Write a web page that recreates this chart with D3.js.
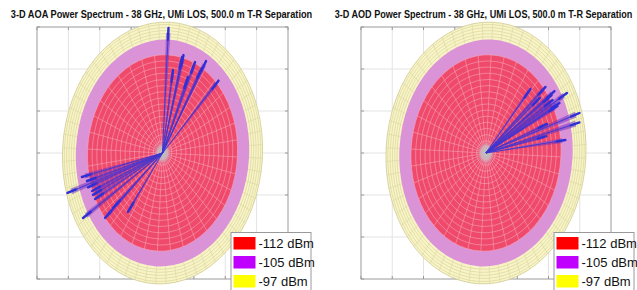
<!DOCTYPE html>
<html><head><meta charset="utf-8">
<script src="https://cdn.jsdelivr.net/npm/d3@7"></script>
<style>body{margin:0;background:#fff}svg{display:block}</style>
</head><body>
<svg id="c" width="637" height="290"></svg>
<script>
// ---------------- data ----------------
const titles = [
  "3-D AOA Power Spectrum - 38 GHz, UMi LOS, 500.0 m T-R Separation",
  "3-D AOD Power Spectrum - 38 GHz, UMi LOS, 500.0 m T-R Separation"
];
const levelLabels = ["-112 dBm", "-105 dBm", "-97 dBm"];
const levelPowers = [-112, -105, -97];
const legendColors = ["#ff0000", "#bf00ff", "#ffff00"];
const xTicks = [-4, -3, -2, -1, 0, 1, 2, 3, 4];
const yTicks = [-3, -2, -1, 0, 1, 2, 3];
// AOA multipath lobes: azimuth (deg) and received power (dBm)
const aoaAz  = [86.4, 74.3, 75.1, 64.9, 58.2, 58.7, 44.6, 80.6, 66.3,
                192.8, 197.8, 199.4, 202.4, 204.7, 207.5, 212.0, 220.8, 232.5, 220.3, 195.8];
const aoaPow = [-99.6, -110.4, -111.5, -111.0, -107.4, -111.4, -109.8, -118.5, -119.0,
                -107.4, -97.1, -109.6, -111.3, -111.1, -111.4, -100.8, -111.5, -123.0, -118.0, -109.9];
// AOD multipath lobes
const aodAz  = [47.7, 40.3, 34.6, 29.5, 31.3, 26.7, 18.1, 14.0, 7.1, 34.0, 27.5, 12.0, 20.0, 38.0];
const aodPow = [-117.3, -110.2, -107.1, -101.2, -110.3, -109.0, -98.0, -99.2, -109.0, -109.6, -107.3, -120.0, -118.0, -116.0];

// ---------------- layout ----------------
const svg = d3.select("#c");
const panels = [
  {x0: 37, x1: 288, title: titles[0], az: aoaAz, pow: aoaPow, tx: 161.5, tw: 302, lx: 231},
  {x0: 361, x1: 611, title: titles[1], az: aodAz, pow: aodPow, tx: 483.5, tw: 298, lx: 554}
];
const y0 = 27, y1 = 279;
const rScale = d3.scaleLinear().domain([-157, -97]).range([0, 100]);
const aspect = 1.31;
const tilt = 3;

const defs = svg.append("defs");
const gr = defs.append("radialGradient").attr("id", "ctr");
gr.append("stop").attr("offset", "0%").attr("stop-color", "#b8c4c0");
gr.append("stop").attr("offset", "60%").attr("stop-color", "#c8b8c0").attr("stop-opacity", 0.8);
gr.append("stop").attr("offset", "100%").attr("stop-color", "#e07090").attr("stop-opacity", 0);

function pt(r, az) {
  const a = az * Math.PI / 180;
  return [r * Math.cos(a), -r * aspect * Math.sin(a)];
}

panels.forEach(p => {
  const x = d3.scaleLinear().domain([-4, 4]).range([p.x0, p.x1]);
  const y = d3.scaleLinear().domain([-3, 3]).range([y1, y0]);
  const g = svg.append("g");

  // grid
  g.selectAll(".vg").data(xTicks).join("line")
    .attr("x1", d => x(d)).attr("x2", d => x(d)).attr("y1", y0).attr("y2", y1)
    .attr("stroke", "#e3e3e3").attr("stroke-width", 1);
  g.selectAll(".hg").data(yTicks).join("line")
    .attr("y1", d => y(d)).attr("y2", d => y(d)).attr("x1", p.x0).attr("x2", p.x1)
    .attr("stroke", "#e3e3e3").attr("stroke-width", 1);
  // box + ticks
  g.append("rect").attr("x", p.x0).attr("y", y0).attr("width", p.x1 - p.x0).attr("height", y1 - y0)
    .attr("fill", "none").attr("stroke", "#a8a8a8").attr("stroke-width", 1);
  g.selectAll(".tt").data(xTicks).join("line")
    .attr("x1", d => x(d)).attr("x2", d => x(d)).attr("y1", y0).attr("y2", y0 + 3).attr("stroke", "#999");
  g.selectAll(".tb").data(xTicks).join("line")
    .attr("x1", d => x(d)).attr("x2", d => x(d)).attr("y1", y1).attr("y2", y1 - 3).attr("stroke", "#999");
  g.selectAll(".tl").data(yTicks).join("line")
    .attr("y1", d => y(d)).attr("y2", d => y(d)).attr("x1", p.x0).attr("x2", p.x0 + 3).attr("stroke", "#999");
  g.selectAll(".tr").data(yTicks).join("line")
    .attr("y1", d => y(d)).attr("y2", d => y(d)).attr("x1", p.x1).attr("x2", p.x1 - 3).attr("stroke", "#999");

  const cx = x(0), cy = y(0);
  const s = g.append("g").attr("transform", `translate(${cx},${cy}) rotate(${tilt})`);
  const rR = rScale(levelPowers[0]), rP = rScale(levelPowers[1]), rY = rScale(levelPowers[2]);

  // yellow sphere
  s.append("ellipse").attr("rx", rY).attr("ry", rY * aspect).attr("fill", "#f8f4c6")
    .attr("stroke", "#cfcb93").attr("stroke-width", 0.8);
  const yRings = d3.range(levelPowers[1] + 1.3, levelPowers[2], 1.4);
  s.selectAll(".yr").data(yRings).join("ellipse")
    .attr("rx", d => rScale(d)).attr("ry", d => rScale(d) * aspect)
    .attr("fill", "none").attr("stroke", "#d6d29c").attr("stroke-width", 0.6);
  s.selectAll(".ys").data(d3.range(0, 360, 6)).join("line")
    .attr("x1", d => pt(rP, d)[0]).attr("y1", d => pt(rP, d)[1])
    .attr("x2", d => pt(rY, d)[0]).attr("y2", d => pt(rY, d)[1])
    .attr("stroke", "#d6d29c").attr("stroke-width", 0.5);
  // purple sphere
  s.append("ellipse").attr("rx", rP).attr("ry", rP * aspect).attr("fill", "#da93d7");
  // red sphere
  s.append("ellipse").attr("rx", rR).attr("ry", rR * aspect).attr("fill", "#ef4a6c");
  const rRings = d3.range(1, 17).map(i => rR * i / 16).concat([rR * 0.035]);
  s.selectAll(".rr").data(rRings).join("ellipse")
    .attr("rx", d => d).attr("ry", d => d * aspect)
    .attr("fill", "none").attr("stroke", "#f7aebd").attr("stroke-width", 0.6).attr("opacity", 0.85);
  s.selectAll(".rs").data(d3.range(0, 360, 10)).join("line")
    .attr("x1", 0).attr("y1", 0)
    .attr("x2", d => pt(rR, d)[0]).attr("y2", d => pt(rR, d)[1])
    .attr("stroke", "#f7aebd").attr("stroke-width", 0.6).attr("opacity", 0.85);
  s.append("ellipse").attr("rx", 9).attr("ry", 9 * aspect).attr("fill", "url(#ctr)");

  // multipath lobes
  const rays = p.az.map((a, i) => ({az: a, r: rScale(p.pow[i])}));
  const rg = g.append("g").attr("transform", `translate(${cx},${cy})`);
  rg.selectAll(".w").data(rays).join("path")
    .attr("d", d => {
      const a = pt(d.r * 0.96, d.az - 1.4), b = pt(d.r * 0.96, d.az + 1.4);
      return `M0,0L${a[0]},${a[1]}L${b[0]},${b[1]}Z`;
    })
    .attr("fill", "#6b2cc4").attr("opacity", 0.5);
  rg.selectAll(".l").data(rays).join("line")
    .attr("x1", 0).attr("y1", 0)
    .attr("x2", d => pt(d.r, d.az)[0]).attr("y2", d => pt(d.r, d.az)[1])
    .attr("stroke", "#3f37cf").attr("stroke-width", 1.1).attr("opacity", 0.85);
  rg.selectAll(".t").data(rays).join("line")
    .attr("x1", d => pt(d.r - 9, d.az)[0]).attr("y1", d => pt(d.r - 9, d.az)[1])
    .attr("x2", d => pt(d.r, d.az)[0]).attr("y2", d => pt(d.r, d.az)[1])
    .attr("stroke", "#2f2fd6").attr("stroke-width", 2.4).attr("stroke-linecap", "round");

  // title (horizontally condensed to match the narrow original face)
  const t = svg.append("text").attr("text-anchor", "middle")
    .attr("font-family", "Liberation Sans, Arial, sans-serif").attr("font-weight", "bold")
    .attr("font-size", 11).attr("fill", "#111").text(p.title);
  const w = t.node().getComputedTextLength();
  t.attr("transform", `translate(${p.tx},18) scale(${p.tw / w},1)`);

  // legend
  const lg = svg.append("g").attr("transform", `translate(${p.lx},232.5)`);
  lg.append("rect").attr("width", 80).attr("height", 62).attr("fill", "#fff").attr("stroke", "#9a9a9a");
  const it = lg.selectAll(".it").data(levelLabels).join("g")
    .attr("transform", (d, i) => `translate(2.5,${4.5 + i * 19})`);
  it.append("rect").attr("width", 22).attr("height", 12.5).attr("fill", (d, i) => legendColors[i]);
  it.append("text").attr("x", 25).attr("y", 11).attr("font-family", "Liberation Sans, Arial, sans-serif")
    .attr("font-size", 13).attr("fill", "#111").text(d => d);
});
</script>
</body></html>
